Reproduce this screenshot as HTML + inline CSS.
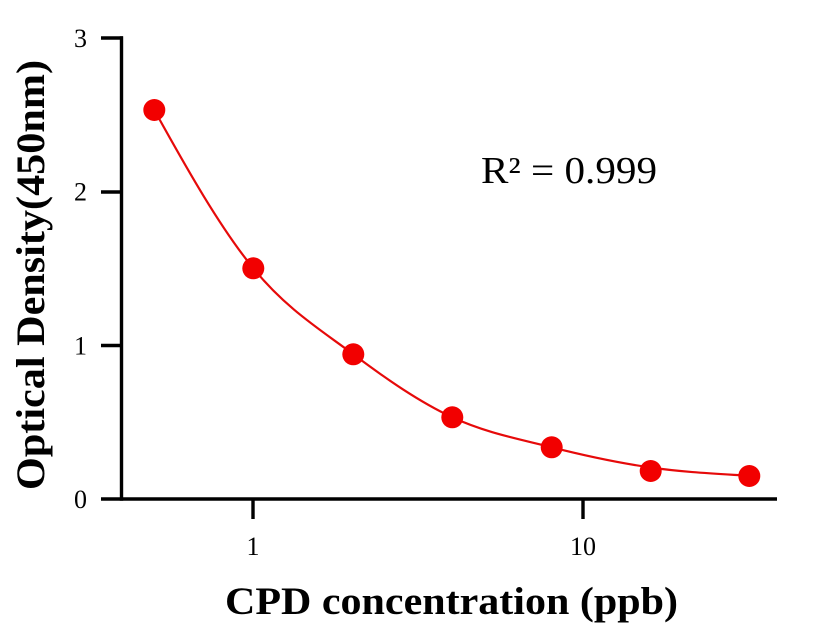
<!DOCTYPE html>
<html>
<head>
<meta charset="utf-8">
<style>
  html, body { margin: 0; padding: 0; background: #ffffff; }
  svg { display: block; }
  text { font-family: "Liberation Serif", "Times New Roman", serif; fill: #000; }
</style>
</head>
<body>
<svg width="816" height="640" viewBox="0 0 816 640" xmlns="http://www.w3.org/2000/svg">
  <rect width="816" height="640" fill="#ffffff"/>

  <!-- Axes -->
  <g stroke="#000" stroke-width="3.4" fill="none" stroke-linecap="butt">
    <line x1="121.5" y1="36.3" x2="121.5" y2="500.7"/>
    <line x1="101" y1="499" x2="777" y2="499"/>
    <!-- y ticks -->
    <line x1="101" y1="38" x2="123" y2="38"/>
    <line x1="101" y1="192" x2="123" y2="192"/>
    <line x1="101" y1="345.5" x2="123" y2="345.5"/>
    <!-- x ticks -->
    <line x1="253" y1="499" x2="253" y2="519"/>
    <line x1="583" y1="499" x2="583" y2="519"/>
  </g>

  <!-- Y tick labels -->
  <g font-size="26" text-anchor="end">
    <text x="87" y="47">3</text>
    <text x="87" y="200.7">2</text>
    <text x="87" y="354.3">1</text>
    <text x="87" y="508">0</text>
  </g>

  <!-- X tick labels -->
  <g font-size="26" text-anchor="middle">
    <text x="253" y="555">1</text>
    <text x="583" y="555">10</text>
  </g>

  <!-- Fit curve -->
  <path d="M154.3,110 C187.35,169.72 220.13,227.58 253.3,268.3
           C286.47,309.02 320.13,329.47 353.3,354.3
           C386.47,379.13 419.23,401.8 452.3,417.3
           C485.37,432.8 518.63,438.93 551.7,447.3
           C584.77,455.67 617.77,462.75 650.7,467.5
           C683.63,472.25 716.42,473.72 749.3,475.8"
        fill="none" stroke="#e60a0a" stroke-width="2.2"/>

  <!-- Data points -->
  <g fill="#f20000">
    <circle cx="154.3" cy="110" r="11"/>
    <circle cx="253.3" cy="268.3" r="11"/>
    <circle cx="353.3" cy="354.3" r="11"/>
    <circle cx="452.3" cy="417.3" r="11"/>
    <circle cx="551.7" cy="447.3" r="11"/>
    <circle cx="650.7" cy="471" r="11"/>
    <circle cx="749.3" cy="476" r="11"/>
  </g>

  <!-- R squared -->
  <text x="481" y="183" font-size="38" textLength="176" lengthAdjust="spacingAndGlyphs">R² = 0.999</text>

  <!-- Axis titles -->
  <text x="225" y="614" font-size="39" font-weight="bold" textLength="453" lengthAdjust="spacingAndGlyphs">CPD concentration (ppb)</text>
  <text transform="translate(44,275) rotate(-90)" x="0" y="0" font-size="40" font-weight="bold" text-anchor="middle" textLength="430" lengthAdjust="spacingAndGlyphs">Optical Density(450nm)</text>
</svg>
</body>
</html>
